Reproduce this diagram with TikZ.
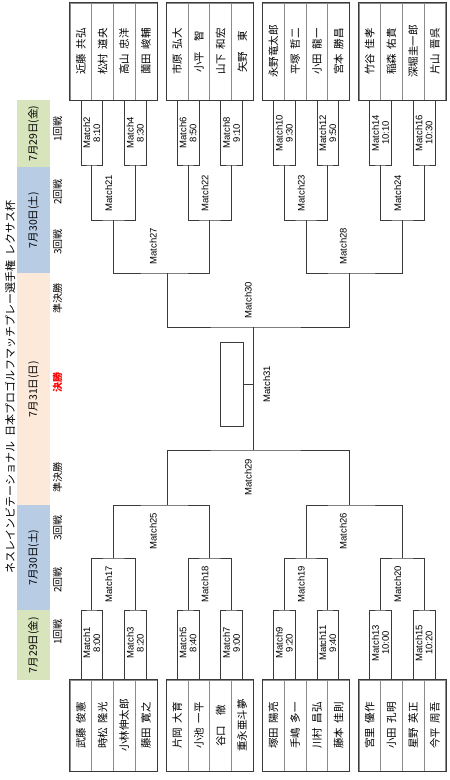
\documentclass[tikz,border=0pt]{standalone}
\usepackage{fontspec}
\setmainfont{Noto Sans CJK JP}
\newfontfamily\MatchFont{Liberation Sans}
\usepackage{tikz}
\usetikzlibrary{calc,positioning}
\definecolor{DayGreen}{HTML}{D8E4BC}
\definecolor{DayBlue}{HTML}{B8CCE4}
\definecolor{DayPeach}{HTML}{FDE9D9}
\definecolor{RuleDark}{HTML}{3A3A3A}
\definecolor{RuleGray}{HTML}{8C8C8C}
\newcommand{\PlGap}{\hspace{.45em}}
\tikzset{
  entry/.style={draw=RuleGray,line width=.6pt,rotate=90,minimum height=21.7pt,inner sep=0pt,font=\fontsize{10.5}{12}\selectfont},
  groupframe/.style={draw=RuleDark,line width=.8pt},
  bracket/.style={draw=RuleDark,line width=.7pt},
  mlabel/.style={rotate=90,inner sep=1pt,align=center,font=\MatchFont\fontsize{9.5}{10}\selectfont},
  daybox/.style={rotate=90,minimum height=33pt,inner sep=0pt,font=\fontsize{10.5}{12}\selectfont},
  roundtag/.style={rotate=90,inner sep=1pt,font=\fontsize{10}{12}\selectfont}
}
% four entries of one group: left edge #1, centre line #2, cell length #3, name prefix #4
\newcommand{\EntryGroup}[8]{%
  \begin{scope}[shift={(#1,#2)}]
    \node[entry,minimum width=#3pt] (#4a) at (10.85,0) {#5};
    \node[entry,minimum width=#3pt] (#4b) at (32.55,0) {#6};
    \node[entry,minimum width=#3pt] (#4c) at (54.25,0) {#7};
    \node[entry,minimum width=#3pt] (#4d) at (75.95,0) {#8};
    \draw[groupframe] (#4a.north west) rectangle (#4d.south east);
  \end{scope}}
% two entries #1,#2 meet at the leave point #3, placed at #4
\newcommand{\Bracket}[4]{%
  \coordinate (#3) at (#4);
  \draw[bracket] (#1) |- (#3) -| (#2);}

\begin{document}
\begin{tikzpicture}[x=1pt,y=-1pt]
  \useasboundingbox (0,0) rectangle (450,780);
  % title, days and rounds
  \node[rotate=90,inner sep=0pt,font=\fontsize{11}{13}\selectfont] (title) at (10,387)
    {ネスレインビテーショナル\PlGap 日本プロゴルフマッチプレー選手権\PlGap レクサス杯};
  \node[daybox,fill=DayGreen,minimum width=67pt] (day29a) at (33.5,133.5) {7月29日(金)};
  \node[daybox,fill=DayBlue,minimum width=106pt] (day30a) at (33.5,220) {7月30日(土)};
  \node[daybox,fill=DayPeach,minimum width=232pt] (day31) at (33.5,389) {7月31日(日)};
  \node[daybox,fill=DayBlue,minimum width=105pt] (day30b) at (33.5,557.5) {7月30日(土)};
  \node[daybox,fill=DayGreen,minimum width=70pt] (day29b) at (33.5,645) {7月29日(金)};
  \node[roundtag] (r1a) at (57.5,129) {1回戦};
  \node[roundtag] (r2a) at (57.5,192) {2回戦};
  \node[roundtag] (r3a) at (57.5,242) {3回戦};
  \node[roundtag] (sfa) at (57.5,298) {準決勝};
  \node[roundtag,text=red,font=\fontsize{10}{12}\selectfont\bfseries] (fin) at (57.5,382) {決勝};
  \node[roundtag] (sfb) at (57.5,477) {準決勝};
  \node[roundtag] (r3b) at (57.5,528) {3回戦};
  \node[roundtag] (r2b) at (57.5,580) {2回戦};
  \node[roundtag] (r1b) at (57.5,632) {1回戦};

  % entries
  \EntryGroup{70}{51.5}{97}{T0}{近藤\PlGap 共弘}{松村\PlGap 道央}{高山\PlGap 忠洋}{薗田\PlGap 峻輔}
  \EntryGroup{166.3}{51.5}{97}{T1}{市原\PlGap 弘大}{小平　智}{山下\PlGap 和宏}{矢野　東}
  \EntryGroup{262.6}{51.5}{97}{T2}{永野竜太郎}{平塚\PlGap 哲二}{小田\PlGap 龍一}{宮本\PlGap 勝昌}
  \EntryGroup{358.9}{51.5}{97}{T3}{竹谷\PlGap 佳孝}{稲森\PlGap 佑貴}{深堀圭一郎}{片山\PlGap 晋呉}
  \EntryGroup{70}{725.5}{91}{B0}{武藤\PlGap 俊憲}{時松\PlGap 隆光}{小林伸太郎}{藤田\PlGap 寛之}
  \EntryGroup{166.3}{725.5}{91}{B1}{片岡\PlGap 大育}{小池\PlGap 一平}{谷口　徹}{重永亜斗夢}
  \EntryGroup{262.6}{725.5}{91}{B2}{塚田\PlGap 陽亮}{手嶋\PlGap 多一}{川村\PlGap 昌弘}{藤本\PlGap 佳則}
  \EntryGroup{358.9}{725.5}{91}{B3}{宮里\PlGap 優作}{小田\PlGap 孔明}{星野\PlGap 英正}{今平\PlGap 周吾}

  % upper half
  \Bracket{T0a.west}{T0b.west}{m2}{91.7,165}
  \Bracket{T0c.west}{T0d.west}{m4}{135.2,165}
  \Bracket{T1a.west}{T1b.west}{m6}{188,165}
  \Bracket{T1c.west}{T1d.west}{m8}{231.4,165}
  \Bracket{T2a.west}{T2b.west}{m10}{284.3,165}
  \Bracket{T2c.west}{T2d.west}{m12}{327.7,165}
  \Bracket{T3a.west}{T3b.west}{m14}{380.6,165}
  \Bracket{T3c.west}{T3d.west}{m16}{424,165}
  \Bracket{m2}{m4}{m21}{113.4,220}
  \Bracket{m6}{m8}{m22}{209.7,220}
  \Bracket{m10}{m12}{m23}{306,220}
  \Bracket{m14}{m16}{m24}{402.3,220}
  \Bracket{m21}{m22}{m27}{167,273}
  \Bracket{m23}{m24}{m28}{349,273}
  \Bracket{m27}{m28}{m30}{253,327}

  % lower half
  \Bracket{B0a.east}{B0b.east}{m1}{91.7,610}
  \Bracket{B0c.east}{B0d.east}{m3}{135.2,610}
  \Bracket{B1a.east}{B1b.east}{m5}{188,610}
  \Bracket{B1c.east}{B1d.east}{m7}{231.4,610}
  \Bracket{B2a.east}{B2b.east}{m9}{284.3,610}
  \Bracket{B2c.east}{B2d.east}{m11}{327.7,610}
  \Bracket{B3a.east}{B3b.east}{m13}{380.6,610}
  \Bracket{B3c.east}{B3d.east}{m15}{424,610}
  \Bracket{m1}{m3}{m17}{113.4,558}
  \Bracket{m5}{m7}{m18}{209.7,558}
  \Bracket{m9}{m11}{m19}{306,558}
  \Bracket{m13}{m15}{m20}{402.3,558}
  \Bracket{m17}{m18}{m25}{167,505}
  \Bracket{m19}{m20}{m26}{349,505}
  \Bracket{m25}{m26}{m29}{253,450}

  % final
  \draw[bracket] (m30) -- (m29);
  \node[draw=RuleDark,line width=.8pt,rotate=90,minimum width=84pt,minimum height=23pt,inner sep=0pt] (champ) at (231.5,384) {};
  \draw[bracket] (champ.south) -- (champ.south -| m30);

  % match labels
  \node[mlabel] (l2) at (91.7,133) {Match2\\8:10};
  \node[mlabel] (l4) at (135.2,133) {Match4\\8:30};
  \node[mlabel] (l6) at (188,133) {Match6\\8:50};
  \node[mlabel] (l8) at (231.4,133) {Match8\\9:10};
  \node[mlabel] (l10) at (284.3,133) {Match10\\9:30};
  \node[mlabel] (l12) at (327.7,133) {Match12\\9:50};
  \node[mlabel] (l14) at (380.6,133) {Match14\\10:10};
  \node[mlabel] (l16) at (424,133) {Match16\\10:30};
  \node[mlabel] (l1) at (91.7,643) {Match1\\8:00};
  \node[mlabel] (l3) at (135.2,643) {Match3\\8:20};
  \node[mlabel] (l5) at (188,643) {Match5\\8:40};
  \node[mlabel] (l7) at (231.4,643) {Match7\\9:00};
  \node[mlabel] (l9) at (284.3,643) {Match9\\9:20};
  \node[mlabel] (l11) at (327.7,643) {Match11\\9:40};
  \node[mlabel] (l13) at (380.6,643) {Match13\\10:00};
  \node[mlabel] (l15) at (424,643) {Match15\\10:20};
  \node[mlabel,anchor=south] (l21) at (113.4,193) {Match21};
  \node[mlabel,anchor=south] (l22) at (209.7,193) {Match22};
  \node[mlabel,anchor=south] (l23) at (306,193) {Match23};
  \node[mlabel,anchor=south] (l24) at (402.3,193) {Match24};
  \node[mlabel,anchor=south] (l17) at (113.4,584) {Match17};
  \node[mlabel,anchor=south] (l18) at (209.7,584) {Match18};
  \node[mlabel,anchor=south] (l19) at (306,584) {Match19};
  \node[mlabel,anchor=south] (l20) at (402.3,584) {Match20};
  \node[mlabel,anchor=south] (l27) at (158,246) {Match27};
  \node[mlabel,anchor=south] (l28) at (348,246) {Match28};
  \node[mlabel,anchor=south] (l25) at (158,531) {Match25};
  \node[mlabel,anchor=south] (l26) at (348,531) {Match26};
  \node[mlabel,anchor=south] (l30) at (253,300) {Match30};
  \node[mlabel,anchor=south] (l29) at (253,477) {Match29};
  \node[mlabel,anchor=north] (l31) at (262,384) {Match31};
\end{tikzpicture}
\end{document}
